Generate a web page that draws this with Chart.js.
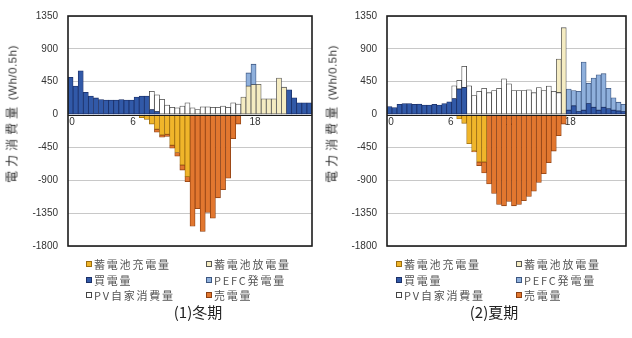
<!DOCTYPE html>
<html lang="ja">
<head>
<meta charset="utf-8">
<script src="https://cdn.jsdelivr.net/npm/chart.js@4.4.1/dist/chart.umd.min.js"></script>
<style>
  html, body { margin: 0; padding: 0; background: #fff; }
  body { width: 632px; height: 338px; position: relative; overflow: hidden;
         font-family: "Liberation Sans", "Noto Sans CJK JP", sans-serif; }
  canvas { position: absolute; top: 0; }
  #cWinter { left: 0; }
  #cSummer { left: 318px; }
  .ytitle { position: absolute; white-space: nowrap; color: #333; font-size: 12px;
            font-family: "Noto Sans CJK JP", sans-serif;
            transform: translate(-50%, -50%) rotate(-90deg); }
  .ytitle .jp { letter-spacing: 4px; }
  .ytitle .unit { font-family: "Liberation Sans", sans-serif; font-size: 11.5px; letter-spacing: 0.5px; }
  .legend { position: absolute; }
  .item { position: absolute; white-space: nowrap; font-size: 11px; color: #555;
          font-family: "Noto Sans CJK JP", sans-serif; letter-spacing: 1.8px; line-height: 14px; }
  .mark { display: inline-block; width: 4px; height: 4px; border: 1px solid #444;
          margin-right: 2px; vertical-align: 2px; }
  .caption { position: absolute; font-size: 15px; color: #222; white-space: nowrap;
             font-family: "Noto Sans CJK JP", sans-serif; transform: translateX(-50%); }
</style>
</head>
<body>
<canvas id="cWinter" width="318" height="262"></canvas>
<canvas id="cSummer" width="314" height="262"></canvas>
<div class="ytitle" style="left:11px; top:114px;"><span class="jp">電力消費量</span> <span class="unit">(Wh/0.5h)</span></div>
<div class="ytitle" style="left:331px; top:114px;"><span class="jp">電力消費量</span> <span class="unit">(Wh/0.5h)</span></div>
<div id="legWinter" class="legend" style="left:86px; top:257px;"></div>
<div id="legSummer" class="legend" style="left:396px; top:257px;"></div>
<div class="caption" style="left:198px; top:301px;">(1)冬期</div>
<div class="caption" style="left:494px; top:301px;">(2)夏期</div>

<script>
// Half-hour slots of one day
const slots = ['0:00','0:30','1:00','1:30','2:00','2:30','3:00','3:30','4:00','4:30','5:00','5:30',
               '6:00','6:30','7:00','7:30','8:00','8:30','9:00','9:30','10:00','10:30','11:00','11:30',
               '12:00','12:30','13:00','13:30','14:00','14:30','15:00','15:30','16:00','16:30','17:00','17:30',
               '18:00','18:30','19:00','19:30','20:00','20:30','21:00','21:30','22:00','22:30','23:00','23:30'];
// Hour marks written along the zero line
const hourTicks = [0, 6, 12, 18];
// Energy axis ticks (Wh per half hour)
const yTicks = [-1800, -1350, -900, -450, 0, 450, 900, 1350];

// Legend order
const seriesNames = ['蓄電池充電量', '蓄電池放電量', '買電量', 'PEFC発電量', 'PV自家消費量', '売電量'];

// ---- Winter (Wh / 0.5h) ----
const winterBuy = [510,390,600,305,254,228,206,200,200,200,205,200,200,240,254,254,70,40,
  0,0,0,0,0,0,0,0,0,0,0,0,0,0,0,0,0,0,0,0,0,0,0,0,0,340,230,160,160,160];
const winterPV = [0,0,0,0,0,0,0,0,0,0,0,0,0,0,0,0,
  250,230,210,130,100,92,118,160,92,70,105,105,100,100,118,100,160,145,
  0,0,0,0,0,0,0,0,0,0,0,0,0,0];
const winterDischarge = [0,0,0,0,0,0,0,0,0,0,0,0,0,0,0,0,0,0,0,0,0,0,0,0,0,0,0,0,0,0,0,0,0,0,
  240,390,410,415,215,215,215,500,375,0,0,0,0,0];
const winterPEFC = [0,0,0,0,0,0,0,0,0,0,0,0,0,0,0,0,0,0,0,0,0,0,0,0,0,0,0,0,0,0,0,0,0,0,0,
  180,280,0,0,0,0,0,0,0,0,0,0,0];
const winterCharge = [0,0,0,0,0,0,0,0,0,0,0,0,0,0,
  -44,-66,-130,-200,-280,-270,-420,-520,-690,-850,
  0,0,0,0,0,0,0,0,0,0,0,0,0,0,0,0,0,0,0,0,0,0,0,0];
const winterSold = [0,0,0,0,0,0,0,0,0,0,0,0,0,0,0,0,0,
  -40,-30,-30,-40,-50,-70,-70,-1530,-1290,-1600,-1340,-1420,-1140,-1030,-870,-330,-130,
  0,0,0,0,0,0,0,0,0,0,0,0,0,0];

// ---- Summer (Wh / 0.5h) ----
const summerBuy = [110,95,140,150,150,140,145,130,130,140,130,150,175,220,350,370,
  0,0,0,0,0,0,0,0,0,0,0,0,0,0,0,0,0,0,0,0,
  60,120,40,60,150,100,60,100,80,60,50,40];
const summerPV = [0,0,0,0,0,0,0,0,0,0,0,0,0,
  175,120,290,395,260,320,360,300,330,360,490,420,330,330,330,340,300,370,330,390,320,300,
  0,0,0,0,0,0,0,0,0,0,0,0,0];
const summerDischarge = [0,0,0,0,0,0,0,0,0,0,0,0,0,0,0,0,0,0,0,0,0,0,0,0,0,0,0,0,0,0,0,0,0,0,
  460,1190,0,0,0,0,0,0,0,0,0,0,0,0];
const summerPEFC = [0,0,0,0,0,0,0,0,0,0,0,0,0,0,0,0,0,0,0,0,0,0,0,0,0,0,0,0,0,0,0,0,0,0,0,0,
  290,210,280,660,280,400,485,460,280,170,120,100];
const summerCharge = [0,0,0,0,0,0,0,0,0,0,0,0,0,0,
  -60,-120,-400,-500,-650,-650,
  0,0,0,0,0,0,0,0,0,0,0,0,0,0,0,0,0,0,0,0,0,0,0,0,0,0,0,0];
const summerSold = [0,0,0,0,0,0,0,0,0,0,0,0,0,0,0,0,0,
  -10,-50,-150,-950,-1080,-1230,-1250,-1190,-1250,-1230,-1180,-1120,-1050,-930,-810,-660,-500,-290,-130,
  0,0,0,0,0,0,0,0,0,0,0,0];

// Fill / outline per series
const STYLE = {
  '蓄電池充電量': { fill: '#f0b52a', line: '#9a6c10' },
  '蓄電池放電量': { fill: '#f5ecc2', line: '#555555' },
  '買電量':       { fill: '#3159a8', line: '#1b2f66' },
  'PEFC発電量':   { fill: '#8fb0dc', line: '#3c5680' },
  'PV自家消費量': { fill: '#ffffff', line: '#444444' },
  '売電量':       { fill: '#e2772f', line: '#8c3f12' }
};

function bar(name, values) {
  return {
    label: name, data: values, xAxisID: 'x', yAxisID: 'y',
    backgroundColor: STYLE[name].fill, borderColor: STYLE[name].line,
    borderWidth: 0.8, borderSkipped: false,
    categoryPercentage: 1, barPercentage: 1
  };
}

// Stacking order: positive parts from the zero line upward, negative parts downward
function seasonDatasets(buy, pv, discharge, pefc, charge, sold) {
  return [
    bar('買電量', buy),
    bar('PV自家消費量', pv),
    bar('蓄電池放電量', discharge),
    bar('PEFC発電量', pefc),
    bar('蓄電池充電量', charge),
    bar('売電量', sold)
  ];
}

// Hour labels under the zero line (painted before the bars, so bars may hide them),
// then the zero line and the black frame around the plot area on top of the bars
const hourAxis = {
  id: 'hourAxis',
  beforeDatasetsDraw(chart) {
    const { ctx, scales: { x, y } } = chart;
    const half = (x.getPixelForValue(1) - x.getPixelForValue(0)) / 2;
    const y0 = y.getPixelForValue(0);
    ctx.save();
    ctx.font = '10px "Liberation Sans", sans-serif';
    ctx.fillStyle = '#333';
    ctx.textAlign = 'center';
    ctx.textBaseline = 'top';
    hourTicks.forEach(h => ctx.fillText(String(h), x.getPixelForValue(h * 2) - half + 4, y0 + 3));
    ctx.restore();
  },
  afterDatasetsDraw(chart) {
    const { ctx, chartArea: a, scales: { y } } = chart;
    const y0 = Math.round(y.getPixelForValue(0)) + 0.5;
    ctx.save();
    ctx.strokeStyle = '#1a1a1a';
    ctx.lineWidth = 1;
    ctx.beginPath();
    ctx.moveTo(a.left, y0);
    ctx.lineTo(a.right, y0);
    ctx.stroke();
    ctx.strokeStyle = '#1c1c1c';
    ctx.lineWidth = 1.6;
    ctx.strokeRect(a.left, a.top, a.right - a.left, a.bottom - a.top);
    ctx.restore();
  }
};

const tickFont = { family: '"Liberation Sans", sans-serif', size: 10 };

function makeChart(id, datasets, axisWidth, padBottom) {
  return new Chart(document.getElementById(id), {
    type: 'bar',
    data: { labels: slots, datasets },
    options: {
      responsive: false, animation: false, devicePixelRatio: 1,
      layout: { padding: { left: 0, right: 6, top: 12.5, bottom: padBottom } },
      plugins: { legend: { display: false }, tooltip: { enabled: false } },
      scales: {
        x: { stacked: true, display: false },
        y: {
          stacked: true, min: -1800, max: 1350,
          afterBuildTicks: s => { s.ticks = yTicks.map(v => ({ value: v })); },
          afterFit: s => { s.width = axisWidth; },
          grid: { color: c => (c.tick && c.tick.value === 0) ? 'rgba(0,0,0,0)' : '#c8c8c8',
                  drawTicks: false, lineWidth: 1 },
          border: { display: false },
          ticks: { font: tickFont, color: '#333', padding: 10, callback: v => String(v) }
        }
      }
    },
    plugins: [hourAxis]
  });
}

makeChart('cWinter',
  seasonDatasets(winterBuy, winterPV, winterDischarge, winterPEFC, winterCharge, winterSold), 68, 10.5);
makeChart('cSummer',
  seasonDatasets(summerBuy, summerPV, summerDischarge, summerPEFC, summerCharge, summerSold), 69, 11.5);

// Two-column legend below each chart
function buildLegend(hostId) {
  const host = document.getElementById(hostId);
  seriesNames.forEach((name, k) => {
    const col = k % 2, row = Math.floor(k / 2);
    const el = document.createElement('div');
    el.className = 'item';
    el.style.left = (col * 120) + 'px';
    el.style.top = (row * 15.5) + 'px';
    const m = document.createElement('span');
    m.className = 'mark';
    m.style.background = STYLE[name].fill;
    m.style.borderColor = STYLE[name].line;
    el.appendChild(m);
    el.appendChild(document.createTextNode(name));
    host.appendChild(el);
  });
}
buildLegend('legWinter');
buildLegend('legSummer');
</script>
</body>
</html>
